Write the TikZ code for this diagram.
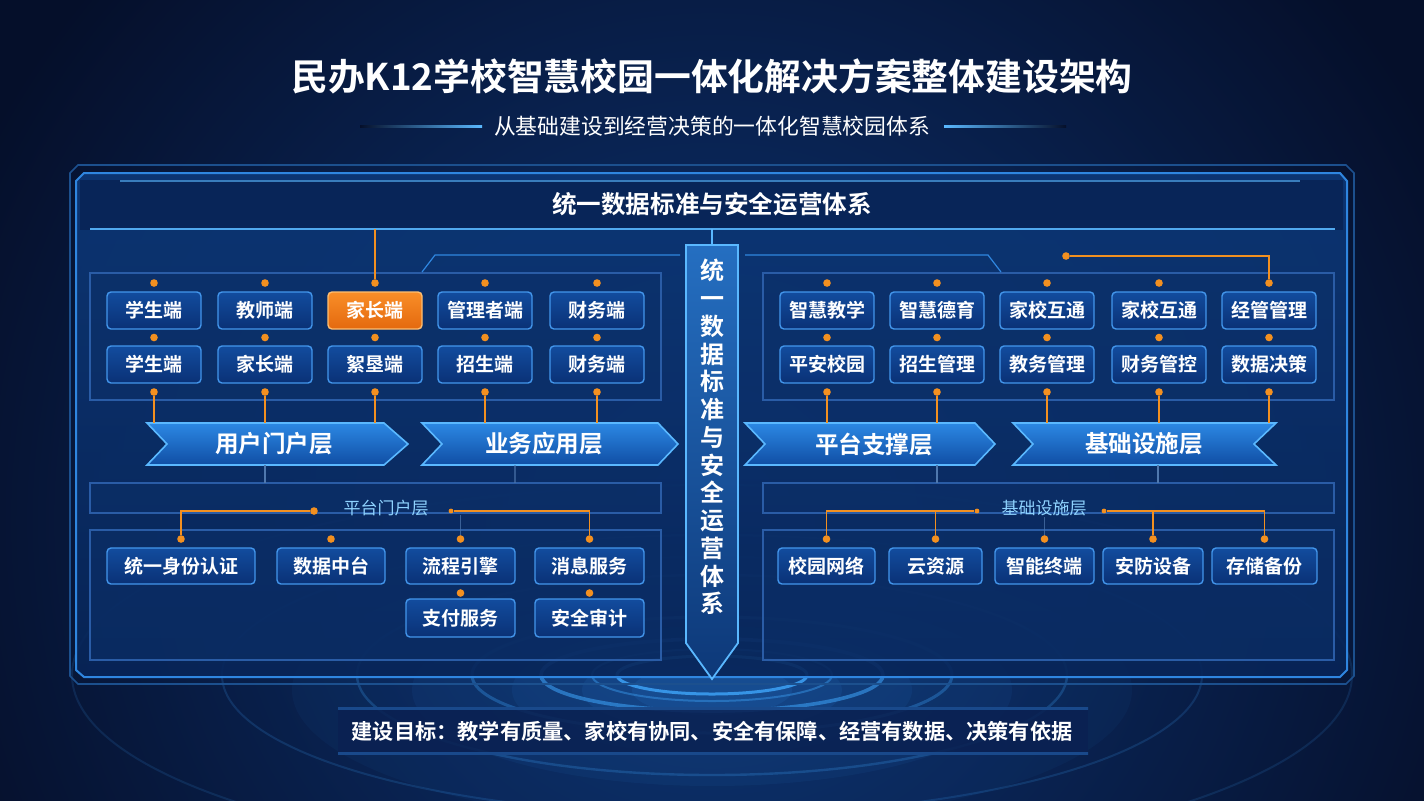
\documentclass[tikz,border=0pt]{standalone}
\usepackage{fontspec}
\setmainfont{Noto Sans CJK SC}[BoldFont={Noto Sans CJK SC Bold}]
\usetikzlibrary{calc}
\definecolor{bgdark}{HTML}{050F2A}
\definecolor{bgmid}{HTML}{0D3576}
\definecolor{panelA}{HTML}{0D3878}
\definecolor{panelB}{HTML}{082558}
\definecolor{edgec}{HTML}{2F86E0}
\definecolor{edgelt}{HTML}{5AB8FF}
\definecolor{boxA}{HTML}{124C9E}
\definecolor{boxB}{HTML}{0A3176}
\definecolor{boxedge}{HTML}{4396EC}
\definecolor{orng}{HTML}{F39020}
\definecolor{orA}{HTML}{F98E28}
\definecolor{orB}{HTML}{E4690E}
\definecolor{orEdge}{HTML}{FFBE70}
\definecolor{lbl}{HTML}{8FD3FF}
\definecolor{bnA}{HTML}{2C88E4}
\definecolor{bnB}{HTML}{104EA4}
\definecolor{thinc}{HTML}{4F78AE}
\definecolor{grpedge}{HTML}{2A5CA6}
\definecolor{grpfill}{HTML}{0C3069}
\definecolor{ringc}{HTML}{3A9CF0}
\definecolor{bandc}{HTML}{0A2152}
\begin{document}
\begin{tikzpicture}[x=0.5pt,y=-0.5pt,
  cbox/.style={draw=boxedge, line width=0.7pt, rounded corners=2pt, top color=boxA, bottom color=boxB,
    minimum width=47pt, minimum height=18.5pt, inner sep=0pt, text=white,
    font=\bfseries\fontsize{9.5}{11}\selectfont},
  obox/.style={cbox, draw=orEdge, top color=orA, bottom color=orB},
  lbox/.style={cbox, minimum height=18pt},
  odot/.style={circle, fill=orng, inner sep=0pt, minimum size=3.8pt},
  sdot/.style={circle, fill=orng, inner sep=0pt, minimum size=2.4pt},
  oline/.style={draw=orng, line width=0.75pt},
  tline/.style={draw=thinc, line width=0.6pt},
  grpbox/.style={draw=grpedge, line width=0.6pt, fill=grpfill, fill opacity=0.55},
  btext/.style={text=white, font=\bfseries\fontsize{11.8}{14}\selectfont, minimum height=21pt, inner sep=0pt},
  bshape/.style={draw=edgelt, line width=0.8pt, top color=bnA, bottom color=bnB},
  sublbl/.style={text=lbl, font=\fontsize{8.5}{10}\selectfont, inner sep=1pt},
]
\useasboundingbox (0,0) rectangle (1424,800);
\clip (0,0) rectangle (1424,800);
% background
\fill[bgdark] (0,0) rectangle (1424,800);
\shade[inner color=bgmid, outer color=bgdark] (712,520) circle (820);
% glow and rings
\foreach \r/\op in {420/0.05, 300/0.07, 200/0.08, 130/0.10, 80/0.12}
  \fill[edgec, opacity=\op] (712,690) ellipse ({\r} and {\r*0.32});
\foreach \rx/\ry/\op/\w in {640/190/0.14/1, 490/140/0.18/1, 355/100/0.25/1.2, 240/58/0.35/1.5, 171/36/0.6/1.8, 120/26/0.45/1, 95/19/0.9/1.5}
  \draw[ringc, line width=\w pt, opacity=\op] (712,675) ellipse ({\rx} and {\ry});

% title
\node[text=white, font=\bfseries\fontsize{18.4}{22}\selectfont] (title) at (712,76) {民办K12学校智慧校园一体化解决方案整体建设架构};
\node[text=white, font=\fontsize{10.9}{13}\selectfont] (sub) at (712,126) {从基础建设到经营决策的一体化智慧校园体系};
\shade[left color=bgdark, right color=edgelt] (360,125) rectangle (482,127.5);
\shade[left color=edgelt, right color=bgdark] (944,125) rectangle (1066,127.5);

% outer frame
\draw[draw=edgec!55!bgdark, line width=0.8pt] (70,173)--(78,165)--(1346,165)--(1354,173)--(1354,676)--(1346,684)--(78,684)--(70,676)--cycle;
\path[draw=edgec, line width=1pt, top color=panelA, bottom color=panelB, fill opacity=0.9]
  (76,181)--(84,173)--(1340,173)--(1347,181)--(1347,670)--(1340,677)--(84,677)--(76,670)--cycle;
% header band
\shade[left color=panelB, middle color=edgec!45!panelA, right color=panelB] (80,180) rectangle (1343,229);
\draw[edgelt, line width=0.9pt, opacity=0.9] (90,229)--(1335,229);
\draw[edgelt, line width=0.6pt, opacity=0.6] (120,181)--(1300,181);
\node[text=white, font=\bfseries\fontsize{12.3}{15}\selectfont, minimum height=24.5pt, inner sep=0pt] (hdr) at (712,204.5) {统一数据标准与安全运营体系};

% group boxes
\path[grpbox] (90,273) rectangle (661,400);
\path[grpbox] (763,273) rectangle (1334,400);
\draw[edgec, line width=0.6pt] (422,272)--(435,255)--(680,255);
\draw[edgec, line width=0.6pt] (745,255)--(988,255)--(1001,272);

% central column
\path[draw=edgelt, line width=0.9pt, top color=edgec!70!panelA, bottom color=panelA]
  (686,245)--(738,245)--(738,643)--(712,679)--(686,643)--cycle;
\coordinate (coltop) at (712,245);
\draw[edgelt, line width=0.6pt] (hdr.south) -- (coltop);
\node[text=white, font=\bfseries\fontsize{12}{13.875}\selectfont, align=center, inner sep=0pt] (colt) at (712,437)
  {统\\一\\数\\据\\标\\准\\与\\安\\全\\运\\营\\体\\系};

% left top boxes
\node[cbox] (l1) at (154,310.5) {学生端};
\node[cbox] (l2) at (265,310.5) {教师端};
\node[obox] (l3) at (375,310.5) {家长端};
\node[cbox] (l4) at (485,310.5) {管理者端};
\node[cbox] (l5) at (597,310.5) {财务端};
\node[cbox] (m1) at (154,364.5) {学生端};
\node[cbox] (m2) at (265,364.5) {家长端};
\node[cbox] (m3) at (375,364.5) {絮垦端};
\node[cbox] (m4) at (485,364.5) {招生端};
\node[cbox] (m5) at (597,364.5) {财务端};
% right top boxes
\node[cbox] (r1) at (827,310.5) {智慧教学};
\node[cbox] (r2) at (937,310.5) {智慧德育};
\node[cbox] (r3) at (1047,310.5) {家校互通};
\node[cbox] (r4) at (1159,310.5) {家校互通};
\node[cbox] (r5) at (1269,310.5) {经管管理};
\node[cbox] (n1) at (827,364.5) {平安校园};
\node[cbox] (n2) at (937,364.5) {招生管理};
\node[cbox] (n3) at (1047,364.5) {教务管理};
\node[cbox] (n4) at (1159,364.5) {财务管控};
\node[cbox] (n5) at (1269,364.5) {数据决策};

% banners
\path[bshape] (147,423)--(384,423)--(408,444)--(384,465)--(147,465)--(167,444)--cycle;
\path[bshape] (422,423)--(658,423)--(678,444)--(658,465)--(422,465)--(442,444)--cycle;
\path[bshape] (745,423)--(975,423)--(995,444)--(975,465)--(745,465)--(765,444)--cycle;
\path[bshape] (1013,423)--(1276,423)--(1254,444)--(1276,465)--(1013,465)--(1033,444)--cycle;
\node[btext] (ban1) at (274,444) {用户门户层};
\node[btext] (ban2) at (544,444) {业务应用层};
\node[btext] (ban3) at (874,444) {平台支撑层};
\node[btext] (ban4) at (1144,444) {基础设施层};

% dots and orange connectors, top groups
\foreach \x [count=\i] in {154,265,375,485,597} {
  \node[odot] (la\i) at (\x,283) {};
  \node[odot] (lb\i) at (\x,337.5) {};
  \node[odot] (lc\i) at (\x,392) {};
}
\foreach \x [count=\i] in {827,937,1047,1159,1269} {
  \node[odot] (ra\i) at (\x,283) {};
  \node[odot] (rb\i) at (\x,337.5) {};
  \node[odot] (rc\i) at (\x,392) {};
}
\draw[oline] (hdr.south -| la3) -- (la3);
\node[odot] (rtop) at (1066,256) {};
\draw[oline] (rtop) -| (ra5);
\foreach \i in {1,2,3} \draw[oline] (lc\i) -- (lc\i |- ban1.north);
\foreach \i in {4,5} \draw[oline] (lc\i) -- (lc\i |- ban2.north);
\foreach \i in {1,2} \draw[oline] (rc\i) -- (rc\i |- ban3.north);
\foreach \i in {3,4,5} \draw[oline] (rc\i) -- (rc\i |- ban4.north);

% lower panels
\path[grpbox] (90,483) rectangle (661,513);
\path[grpbox] (90,530) rectangle (661,660);
\path[grpbox] (763,483) rectangle (1334,513);
\path[grpbox] (763,530) rectangle (1334,660);
\coordinate (ls1) at (265,483);
\coordinate (ls2) at (515,483);
\coordinate (rs1) at (937,483);
\coordinate (rs2) at (1158,483);
\draw[tline] (ls1 |- ban1.south) -- (ls1);
\draw[tline, opacity=0.6] (ls2 |- ban2.south) -- (ls2);
\draw[tline] (rs1 |- ban3.south) -- (rs1);
\draw[tline] (rs2 |- ban4.south) -- (rs2);
\node[sublbl] (plbl) at (386,508) {平台门户层};
\node[sublbl] (ilbl) at (1044,508) {基础设施层};

% lower-left boxes
\node[lbox, minimum width=74pt] (q1) at (181,566) {统一身份认证};
\node[lbox, minimum width=54pt] (q2) at (331,566) {数据中台};
\node[lbox, minimum width=54.5pt] (q3) at (460.5,566) {流程引擎};
\node[lbox, minimum width=54.5pt] (q4) at (589.5,566) {消息服务};
\node[cbox, minimum width=54.5pt, minimum height=19pt] (q5) at (460.5,618) {支付服务};
\node[cbox, minimum width=54.5pt, minimum height=19pt] (q6) at (589.5,618) {安全审计};
\node[odot] (p0) at (314,511) {};
\node[odot] (p1) at (181,539) {};
\draw[oline] (p0) -| (p1);
\node[odot] (p2) at (331,539) {};
\node[sdot] (p3) at (451,511) {};
\node[odot] (p4) at (589.5,539) {};
\draw[oline] (p3) -| (p4);
\node[odot] (p5) at (460.5,539) {};
\coordinate (p5s) at (460.5,515);
\draw[tline, opacity=0.7] (p5s) -- (p5);
\node[odot] (p6) at (460.5,593) {};
\node[odot] (p7) at (589.5,593) {};

% lower-right boxes
\node[lbox, minimum width=48.5pt] (t1) at (826.5,566) {校园网络};
\node[lbox, minimum width=46.5pt] (t2) at (935.5,566) {云资源};
\node[lbox, minimum width=49.5pt] (t3) at (1044.5,566) {智能终端};
\node[lbox, minimum width=50pt] (t4) at (1153,566) {安防设备};
\node[lbox, minimum width=52.5pt] (t5) at (1264.5,566) {存储备份};
\node[sdot] (s0) at (977,511) {};
\node[odot] (s1) at (826.5,539) {};
\draw[oline] (s0) -| (s1);
\node[odot] (s2) at (935.5,539) {};
\draw[oline] (s2 |- s0) -- (s2);
\node[odot] (s3) at (1044.5,539) {};
\coordinate (s3s) at (1044.5,517);
\draw[tline, opacity=0.7] (s3s) -- (s3);
\node[sdot] (s4) at (1104,511) {};
\node[odot] (s5) at (1264.5,539) {};
\draw[oline] (s4) -| (s5);
\node[odot] (s6) at (1153,539) {};
\draw[oline] (s6 |- s4) -- (s6);

% goal band
\fill[bandc, opacity=0.88] (338,708) rectangle (1088,753);
\shade[left color=edgec!40!bandc, middle color=edgelt!60!white, right color=edgec!40!bandc] (338,707) rectangle (1088,709);
\shade[left color=edgec!40!bandc, middle color=edgelt!60!white, right color=edgec!40!bandc] (338,752) rectangle (1088,754);
\node[text=white, font=\bfseries\fontsize{10.6}{13}\selectfont] (goal) at (712,731) {建设目标：教学有质量、家校有协同、安全有保障、经营有数据、决策有依据};
\end{tikzpicture}
\end{document}
